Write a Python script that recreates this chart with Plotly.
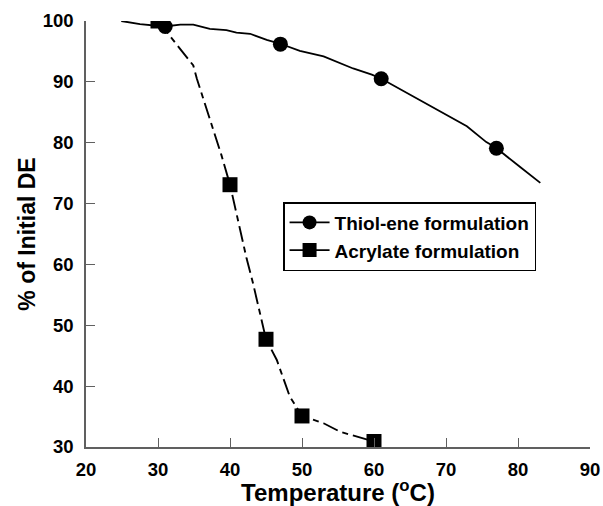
import plotly.graph_objects as go

# Thiol-ene formulation: measured curve and marked points
thiol_curve_x = [24.9, 27.5, 30.9, 33.1, 34.9, 37.2, 39.5, 40.9, 42.8, 45.1, 46.9, 49.7,
                 53.0, 57.1, 59.7, 60.9, 65.9, 71.0, 72.9, 75.6, 76.9, 80.3, 83.1]
thiol_curve_y = [100.0, 99.5, 99.1, 99.4, 99.4, 98.7, 98.5, 98.1, 97.9, 96.9, 96.3, 95.1,
                 94.2, 92.2, 91.2, 90.6, 87.3, 84.0, 82.7, 80.1, 79.2, 76.0, 73.4]
thiol_x = [31, 47, 61, 77]
thiol_y = [99.1, 96.2, 90.5, 79.1]

# Acrylate formulation: measured curve and marked points
acr_curve_x = [30.0, 34.9, 35.4, 37.2, 38.8, 40.0, 42.3, 43.2, 45.0, 46.5, 48.3, 50.0,
               53.0, 55.3, 57.6, 60.0]
acr_curve_y = [100.0, 92.7, 90.5, 84.0, 78.0, 73.1, 61.0, 56.9, 47.7, 44.3, 38.3, 35.1,
               33.9, 32.5, 31.7, 30.9]
acr_x = [30, 40, 45, 50, 60]
acr_y = [100.0, 73.1, 47.7, 35.1, 30.9]

x_ticks = [20, 30, 40, 50, 60, 70, 80, 90]
y_ticks = [30, 40, 50, 60, 70, 80, 90, 100]

FONT = "Arial, Liberation Sans, sans-serif"
AXIS_COLOR = "#606060"

fig = go.Figure()

fig.add_trace(go.Scatter(x=thiol_curve_x, y=thiol_curve_y, mode="lines",
                         line=dict(color="black", width=1.8), showlegend=False,
                         hoverinfo="skip"))
fig.add_trace(go.Scatter(x=thiol_x, y=thiol_y, mode="markers",
                         marker=dict(symbol="circle", size=15, color="black"),
                         showlegend=False))
fig.add_trace(go.Scatter(x=acr_curve_x, y=acr_curve_y, mode="lines",
                         line=dict(color="black", width=1.9, dash="16px,5px,6px,5px"),
                         showlegend=False, hoverinfo="skip"))
fig.add_trace(go.Scatter(x=acr_x, y=acr_y, mode="markers",
                         marker=dict(symbol="square", size=15, color="black"),
                         showlegend=False))

# Legend entries
fig.add_trace(go.Scatter(x=[None], y=[None], mode="lines+markers",
                         name="Thiol-ene formulation",
                         line=dict(color="black", width=1.8),
                         marker=dict(symbol="circle", size=14, color="black")))
fig.add_trace(go.Scatter(x=[None], y=[None], mode="lines+markers",
                         name="Acrylate formulation",
                         line=dict(color="black", width=1.8),
                         marker=dict(symbol="square", size=14, color="black")))

fig.update_layout(
    width=603, height=506,
    margin=dict(l=86, r=13, t=21, b=59),
    paper_bgcolor="white", plot_bgcolor="white",
    font=dict(family=FONT, color="black"),
    legend=dict(x=0.391, y=0.575, xanchor="left", yanchor="top",
                bordercolor="black", borderwidth=1.5, bgcolor="white",
                font=dict(size=19, family=FONT, weight="bold"),
                itemwidth=40),
)

fig.update_xaxes(
    range=[20, 90], tickvals=x_ticks, ticktext=[str(v) for v in x_ticks],
    showgrid=False, zeroline=False, showline=True, linecolor=AXIS_COLOR, linewidth=1.5,
    ticks="inside", ticklen=9, tickwidth=1.2, tickcolor=AXIS_COLOR,
    tickfont=dict(size=18.5, family=FONT, weight="bold"), ticklabelstandoff=5,
    automargin=False,
    title=dict(text="Temperature (<sup>o</sup>C)", standoff=2,
               font=dict(size=24, family=FONT, weight="bold")),
)
fig.update_yaxes(
    range=[30, 100], tickvals=y_ticks, ticktext=[str(v) for v in y_ticks],
    showgrid=False, zeroline=False, showline=True, linecolor=AXIS_COLOR, linewidth=1.5,
    ticks="inside", ticklen=9, tickwidth=1.2, tickcolor=AXIS_COLOR,
    tickfont=dict(size=18.5, family=FONT, weight="bold"), ticklabelstandoff=7,
    automargin=False,
    title=dict(text="% of Initial DE", standoff=1,
               font=dict(size=23, family=FONT, weight="bold")),
)

fig.write_html("out.html")
